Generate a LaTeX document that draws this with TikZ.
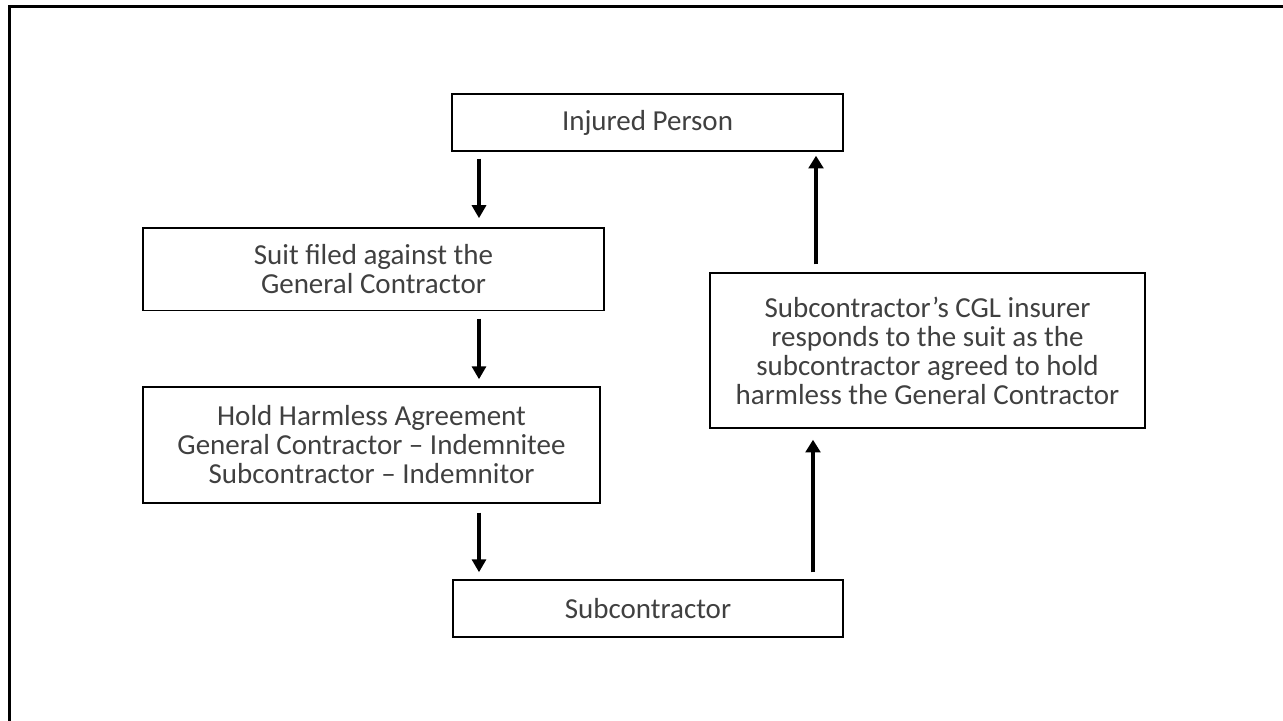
\documentclass[tikz,border=0pt]{standalone}
\usepackage{fontspec}
\setmainfont{Carlito}
\usetikzlibrary{arrows.meta}
\definecolor{boxtext}{HTML}{404040}

\begin{document}
\begin{tikzpicture}[x=0.75pt,y=-0.75pt,
  stepbox/.style={draw=black,line width=1.1pt,inner sep=0pt,align=center,text=boxtext,
    font=\fontsize{21.75}{21.75}\selectfont},
  flow/.style={line width=2.4pt,-{Triangle[length=9.75pt,width=10.5pt]}},
  bigflow/.style={line width=3pt,-{Triangle[length=9.5pt,width=11pt]}}]
  \useasboundingbox (0,0) rectangle (1283,721);
  \draw[line width=2.25pt] (9,6) rectangle (1320,750); %% outer frame, runs off the page

  \node[stepbox,minimum width=293.25pt,minimum height=42.75pt] (injured) at (647.5,122.5) {Injured Person};
  \node[stepbox,minimum width=345.75pt,minimum height=61.9pt] (suit) at (373.5,269.2)
    {Suit filed against the\\General Contractor};
  \node[stepbox,minimum width=342.75pt,minimum height=87pt] (holdharmless) at (371.5,445)
    {Hold Harmless Agreement\\General Contractor -- Indemnitee\\Subcontractor -- Indemnitor};
  \node[stepbox,minimum width=292.5pt,minimum height=42.75pt] (subcon) at (648,608.5) {Subcontractor};
  \node[stepbox,minimum width=326.25pt,minimum height=116.25pt] (insurer) at (927.5,350.5)
    {Subcontractor’s CGL insurer\\responds to the suit as the\\subcontractor agreed to hold\\harmless the General Contractor};

  \coordinate (leftrun) at (479,0);
  \coordinate (lowrun) at (813,0);
  \coordinate (highrun) at (816,0);

  \draw[flow,shorten <=5.25pt,shorten >=6.75pt] (injured.south -| leftrun) -- (suit.north -| leftrun);
  \draw[flow,shorten <=5.6pt,shorten >=5.25pt] (suit.south -| leftrun) -- (holdharmless.north -| leftrun);
  \draw[flow,shorten <=6.75pt,shorten >=5.25pt] (holdharmless.south -| leftrun) -- (subcon.north -| leftrun);
  \draw[bigflow,shorten <=5.25pt,shorten >=8.25pt] (subcon.north -| lowrun) -- (insurer.south -| lowrun);
  \draw[bigflow,shorten <=6pt,shorten >=3pt] (insurer.north -| highrun) -- (injured.south -| highrun);
\end{tikzpicture}
\end{document}
